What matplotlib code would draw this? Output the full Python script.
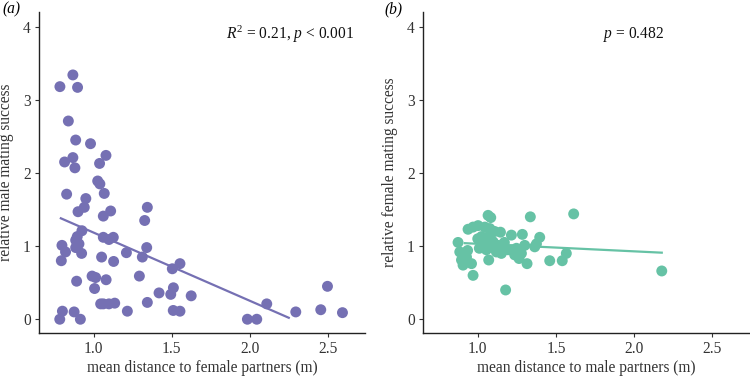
import matplotlib
matplotlib.use("Agg")
import matplotlib.pyplot as plt

# panel (a): males
male_dist = [0.784, 0.867, 0.897, 0.838, 0.885, 0.98, 1.079, 0.867, 0.814, 0.88,
             1.038, 1.026, 1.04, 0.827, 0.95, 1.068, 0.90, 0.94, 1.062, 1.109,
             1.344, 1.327, 0.925, 0.895, 0.885, 0.797, 0.82, 0.793, 0.885, 0.923,
             1.062, 1.098, 1.126, 1.051, 1.128, 1.21, 1.312, 1.34, 1.504, 1.553,
             0.891, 0.99, 1.013, 1.006, 1.08, 1.293, 1.062, 1.098, 1.135, 1.216,
             1.344, 1.419, 1.494, 1.511, 1.51, 1.553, 1.625, 0.80, 0.783, 0.875,
             0.915, 1.985, 2.045, 2.109, 2.295, 2.455, 2.498, 2.594, 0.906, 1.045]
male_success = [3.18, 3.34, 3.17, 2.71, 2.45, 2.40, 2.24, 2.21, 2.15, 2.07,
                2.13, 1.89, 1.85, 1.71, 1.65, 1.72, 1.47, 1.53, 1.41, 1.48,
                1.53, 1.35, 1.21, 1.13, 1.08, 1.01, 0.92, 0.80, 0.98, 0.90,
                1.12, 1.09, 1.12, 0.85, 0.79, 0.91, 0.85, 0.98, 0.69, 0.76,
                0.52, 0.59, 0.57, 0.42, 0.54, 0.59, 0.21, 0.21, 0.22, 0.11,
                0.23, 0.36, 0.34, 0.43, 0.12, 0.11, 0.32, 0.11, 0.0, 0.10,
                0.0, 0.0, 0.0, 0.21, 0.10, 0.13, 0.45, 0.09, 1.03, 0.21]
male_fit_x = [0.79, 2.25]
male_fit_y = [1.38, 0.02]

# panel (b): females
female_dist = [1.066, 1.083, 1.336, 1.613, 0.938, 0.97, 1.002, 1.045, 1.077, 1.108,
               1.145, 1.215, 1.285, 1.396, 1.375, 0.874, 0.885, 0.896, 0.906, 0.96,
               0.97, 0.935, 0.928, 1.034, 1.066, 1.098, 1.13, 1.161, 1.193, 1.055,
               1.119, 1.151, 1.215, 1.247, 1.279, 1.236, 1.30, 1.364, 1.024, 1.077,
               1.07, 1.264, 1.315, 1.46, 1.54, 1.566, 2.176, 1.178, 1.0, 1.09,
               1.17, 1.01]
female_success = [1.42, 1.39, 1.40, 1.44, 1.23, 1.26, 1.28, 1.26, 1.24, 1.20,
                  1.19, 1.15, 1.16, 1.12, 1.03, 1.05, 0.92, 0.81, 0.74, 0.76,
                  0.60, 0.94, 0.85, 1.04, 1.08, 1.06, 1.01, 0.99, 0.95, 0.95,
                  0.92, 0.90, 0.95, 0.97, 0.90, 0.88, 1.01, 0.99, 1.13, 1.15,
                  0.81, 0.83, 0.76, 0.80, 0.80, 0.90, 0.66, 0.40, 1.10, 1.00,
                  1.05, 0.97]
female_fit_x = [0.917, 2.176]
female_fit_y = [1.04, 0.91]

xticks = [1.0, 1.5, 2.0, 2.5]
yticks = [0, 1, 2, 3, 4]

plt.rcParams['font.family'] = ['Liberation Serif', 'DejaVu Serif']
plt.rcParams['mathtext.fontset'] = 'custom'
plt.rcParams['mathtext.rm'] = 'Liberation Serif'
plt.rcParams['mathtext.it'] = 'Liberation Serif:italic'

txt = '#333333'
purple = '#7570b3'
green = '#66c2a5'
fs = 11.2

fig = plt.figure(figsize=(7.5, 3.76), dpi=100)
ax1 = fig.add_axes([0.052, 0.114, 0.435, 0.854])
ax2 = fig.add_axes([0.564, 0.114, 0.436, 0.854])


def style(ax, xlabel, ylabel):
    ax.set_xlim(0.65, 2.74)
    ax.set_ylim(-0.19, 4.2)
    ax.set_xticks(xticks)
    ax.set_xticklabels(['%.1f' % t for t in xticks])
    ax.set_yticks(yticks)
    ax.spines['top'].set_visible(False)
    ax.spines['right'].set_visible(False)
    for s in ('left', 'bottom'):
        ax.spines[s].set_color('#222222')
        ax.spines[s].set_linewidth(1.0)
    ax.tick_params(length=3, width=0.8, color='#333333', labelsize=fs,
                   labelcolor=txt, pad=3)
    ax.set_xlabel(xlabel, fontsize=fs, color=txt, labelpad=2)
    ax.set_ylabel(ylabel, fontsize=fs, color=txt, labelpad=6)


ax1.scatter(male_dist, male_success, s=62, color=purple, edgecolors='none', zorder=3)
ax1.plot(male_fit_x, male_fit_y, color=purple, linewidth=1.6, zorder=2)
style(ax1, 'mean distance to female partners (m)', 'relative male mating success')
ax1.text(0.965, 0.93, '$R^2$ = 0.21, $p$ < 0.001', transform=ax1.transAxes,
         ha='right', va='center', fontsize=fs, color='#111111')

ax2.scatter(female_dist, female_success, s=62, color=green, edgecolors='none', zorder=3)
ax2.plot(female_fit_x, female_fit_y, color=green, linewidth=1.6, zorder=2)
style(ax2, 'mean distance to male partners (m)', 'relative female mating success')
ax2.text(0.645, 0.93, '$p$ = 0.482', transform=ax2.transAxes,
         ha='center', va='center', fontsize=fs, color='#111111')

fig.text(0.003, 0.975, '(a)', fontsize=fs, style='italic', va='center', ha='left')
fig.text(0.512, 0.975, '(b)', fontsize=fs, style='italic', va='center', ha='left')

fig.savefig('out.png', dpi=100)
